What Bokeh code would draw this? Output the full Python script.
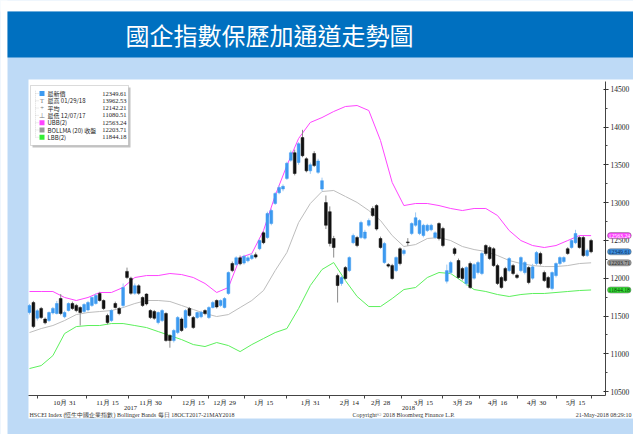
from bokeh.plotting import figure
from bokeh.models import (ColumnDataSource, FixedTicker, SingleIntervalTicker, Label,
                          BoxAnnotation, Range1d, LinearAxis)
from bokeh.embed import file_html
from bokeh.resources import INLINE

# ---------------- data (trading-day index 0 = 18 Oct 2017, 144 = 21 May 2018) -------------
tick_idx = [9, 20, 31, 42, 50, 60, 72, 82, 90, 101, 111, 120, 130, 140]
tick_labels = ["10月 31", "11月 15", "11月 30", "12月 15", "12月 29", "1月 15", "1月 31",
               "2月 14", "2月 28", "3月 15", "3月 29", "4月 16", "4月 30", "5月 15"]
minor_idx = [2, 14.5, 25.5, 36.5, 46, 55, 66, 77, 86, 95.5, 106, 115.5, 125, 135, 144]
years = ["2017", "2018"]
year_pos = [25.9, 97.2]

opens = [11546, 11678, 11470, 11600, 11460, 11440, 11540, 11533, 11731, 11490,
         11572, 11665, 11640, 11612, 11560, 11580, 11640, 11665, 11798, 11705,
         11506, 11440, 11665, 11599, 11639, 12090, 12000, 11800, 11900, 11745,
         11790, 11572, 11560, 11413, 11440, 11533, 11241, 11175, 11281, 11460,
         11347, 11599, 11480, 11480, 11490, 11572, 11480, 11612, 11705, 11640,
         11612, 11798, 12194, 12180, 12270, 12200, 12230, 12260, 12310, 12390,
         12600, 12538, 12723, 12988, 13130, 13180, 13320, 13560, 13660, 13530,
         13860, 13580, 13420, 13650, 13400, 13180, 13000, 12880, 12525, 12035,
         11930, 12141, 12101, 12470, 12538, 12538, 12530, 12700, 12922, 12961,
         12525, 12207, 12180, 12167, 12101, 12390, 12326, 12480, 12591, 12700,
         12591, 12564, 12630, 12640, 12540, 12723, 12657, 11960, 12075, 12390,
         12234, 12128, 11930, 12194, 12000, 12075, 12062, 12432, 12406, 12390,
         12167, 12009, 12128, 12101, 12167, 12040, 12101, 12075, 12141, 12000,
         12194, 12326, 12075, 12009, 11864, 12035, 12194, 12220, 12390, 12406,
         12470, 12538, 12538, 12300, 12498]
closes = [11639, 11360, 11570, 11480, 11410, 11546, 11600, 11665, 11533, 11546,
          11665, 11599, 11572, 11546, 11652, 11678, 11745, 11771, 11705, 11599,
          11413, 11572, 11612, 11533, 11877, 12010, 11800, 11900, 11800, 11639,
          11660, 11480, 11470, 11546, 11572, 11175, 11175, 11308, 11480, 11308,
          11572, 11506, 11347, 11546, 11550, 11533, 11612, 11678, 11620, 11705,
          11731, 12075, 12101, 12270, 12190, 12290, 12270, 12300, 12280, 12498,
          12470, 12856, 12895, 13120, 13200, 13215, 13520, 13660, 13385, 13780,
          13620, 13420, 13500, 13490, 13550, 13290, 12700, 12460, 12406, 11903,
          12009, 11996, 12273, 12564, 12432, 12736, 12610, 12763, 12830, 12650,
          12406, 12458, 12160, 11996, 12273, 12194, 12366, 12470, 12723, 12800,
          12763, 12700, 12700, 12700, 12600, 12525, 12432, 12100, 12207, 12326,
          12009, 11996, 12141, 11877, 12180, 12207, 12326, 12326, 12260, 12167,
          11930, 11877, 11969, 12260, 12062, 12010, 12273, 12207, 11943, 12150,
          12340, 12194, 11969, 11877, 12075, 12194, 12273, 12273, 12326, 12498,
          12591, 12406, 12300, 12366, 12349.61]
highs = [11660, 11700, 11590, 11620, 11480, 11560, 11620, 11700, 11790, 11570,
         11680, 11690, 11660, 11630, 11670, 11700, 11760, 11800, 11820, 11720,
         11530, 11590, 11690, 11620, 11930, 12140, 12020, 11930, 11920, 11760,
         11800, 11590, 11580, 11560, 11590, 11550, 11260, 11330, 11500, 11480,
         11590, 11620, 11500, 11560, 11570, 11590, 11630, 11700, 11720, 11720,
         11750, 12090, 12220, 12290, 12300, 12310, 12300, 12330, 12340, 12520,
         12620, 12880, 12920, 13140, 13230, 13240, 13540, 13690, 13700, 13800,
         13962.53, 13600, 13530, 13680, 13580, 13330, 13094, 12950, 12560, 12060,
         12030, 12160, 12290, 12590, 12560, 12760, 12640, 12790, 12950, 12980,
         12550, 12480, 12200, 12190, 12290, 12410, 12390, 12530, 12740, 12870,
         12780, 12720, 12720, 12720, 12620, 12740, 12680, 12180, 12230, 12410,
         12260, 12150, 12160, 12220, 12200, 12230, 12350, 12450, 12430, 12410,
         12190, 12030, 12150, 12280, 12190, 12060, 12290, 12230, 12160, 12190,
         12360, 12350, 12100, 12030, 12090, 12210, 12290, 12290, 12410, 12520,
         12640, 12560, 12560, 12390, 12520]
lows = [11520, 11340, 11440, 11460, 11390, 11420, 11520, 11520, 11510, 11470,
        11560, 11580, 11550, 11374, 11540, 11560, 11620, 11650, 11690, 11580,
        11390, 11420, 11600, 11510, 11610, 11990, 11780, 11780, 11780, 11620,
        11640, 11460, 11450, 11390, 11420, 11160, 11080.51, 11150, 11260, 11290,
        11330, 11490, 11330, 11460, 11470, 11510, 11460, 11600, 11600, 11620,
        11600, 11780, 12080, 12160, 12170, 12180, 12210, 12240, 12260, 12370,
        12450, 12520, 12700, 12970, 13110, 13150, 13300, 13540, 13360, 13500,
        13600, 13400, 13380, 13470, 13380, 13150, 12650, 12420, 12273, 11678,
        11900, 11980, 12080, 12450, 12410, 12520, 12510, 12680, 12810, 12630,
        12390, 12190, 12140, 11980, 12080, 12170, 12300, 12430, 12570, 12680,
        12570, 12540, 12610, 12620, 12520, 12500, 12410, 11930, 12050, 12300,
        11990, 11970, 11900, 11860, 11980, 12050, 12040, 12300, 12240, 12150,
        11910, 11860, 11950, 12080, 12040, 11990, 12080, 12050, 11920, 11980,
        12170, 12170, 11950, 11860, 11840, 12010, 12170, 12200, 12310, 12390,
        12450, 12390, 12280, 12280, 12330]

band_idx = list(range(0, 145, 3))
upper = [11824, 11824, 11824, 11745, 11705, 11745, 11811, 11811, 11877, 12009,
         12035, 12035, 12062, 12048, 12009, 11930, 11811, 11877, 12273, 12326,
         12630, 13094, 13490, 13848, 14060, 14125, 14205, 14271, 14284, 14218,
         13821, 13266, 12961, 12988, 12988, 12961, 12922, 12895, 12922, 12922,
         12829, 12630, 12498, 12432, 12406, 12432, 12498, 12564, 12563.24]
middle = [11281, 11334, 11374, 11440, 11519, 11546, 11559, 11572, 11612, 11665,
          11705, 11705, 11692, 11639, 11586, 11533, 11493, 11519, 11612, 11705,
          11837, 12101, 12340, 12736, 12988, 13147, 13160, 13081, 13002, 12895,
          12763, 12564, 12419, 12445, 12525, 12538, 12498, 12419, 12379, 12353,
          12300, 12234, 12194, 12167, 12154, 12154, 12167, 12194, 12203.71]
lower = [10805, 10844, 10976, 11268, 11360, 11374, 11374, 11400, 11400, 11374,
         11347, 11294, 11241, 11188, 11122, 11096, 11149, 11109, 11029, 11122,
         11202, 11281, 11334, 11599, 11903, 12115, 12207, 11969, 11758, 11625,
         11625, 11731, 11850, 11877, 12009, 12075, 12062, 11956, 11850, 11824,
         11784, 11758, 11784, 11798, 11798, 11811, 11824, 11837, 11844.18]

legend_names = ["最新價", "最高 01/29/18", "平均", "最低 12/07/17", "UBB(2)",
                "BOLLMA (20) 收盤", "LBB(2)"]
legend_values = ["12349.61", "13962.53", "12142.21", "11080.51", "12563.24",
                 "12203.71", "11844.18"]
tag_values = [12563.24, 12349.61, 12203.71, 11844.18]

title_text = "國企指數保歷加通道走勢圖"
footer_left = "HSCEI Index (恒生中國企業指數) Bollinger Bands  每日 18OCT2017-21MAY2018"
footer_mid = "Copyright© 2018 Bloomberg Finance L.P."
footer_right = "21-May-2018 08:29:10"

# ---------------- layout helpers (picture is 633 x 434, canvas drawn at page origin) ------
W, H = 633, 434


def sx(xi):
    return xi


def sy(yi):
    return H - yi


# picture-pixel -> data mapping of the chart area
PX0, PXD = 29.0, 3.9          # x pixel of index 0, pixels per trading day
PY0, PPP = 88.7, 500 / 37.8   # y pixel of 14500, price per pixel


def xd(xi):
    return (xi - PX0) / PXD


def yd(yi):
    return 14500 - (yi - PY0) * PPP


BLUE = "#3D9AF0"
BLACK = "#111111"
MAGENTA = "#FF44FF"
GRAY = "#BDBDBD"
GREEN = "#5CF05C"
LIGHTBG = "#BEDAF6"
BAND = "#0070C0"
SERIF = "Liberation Serif"

n = len(opens)
idx = list(range(n))
up = [c >= o for o, c in zip(opens, closes)]
src = ColumnDataSource(dict(
    x=idx, o=opens, c=closes, h=highs, l=lows,
    top=[max(o, c) for o, c in zip(opens, closes)],
    bot=[min(o, c) for o, c in zip(opens, closes)],
    body=[BLUE if u else BLACK for u in up],
    wick=["#9CC8F2" if u else "#8A8A8A" for u in up],
))

p = figure(width=W, height=H, output_backend="svg", toolbar_location=None,
           x_range=Range1d(xd(0), xd(W)), y_range=Range1d(yd(H), yd(0)),
           x_axis_location=None, y_axis_location=None,
           min_border_left=0, min_border_right=0, min_border_top=0, min_border_bottom=0,
           background_fill_color=LIGHTBG, border_fill_color=LIGHTBG,
           outline_line_color=None)
p.grid.visible = False


def sbox(x0, x1, y0, y1, **kw):
    """box given in picture pixels"""
    return BoxAnnotation(left=sx(x0), right=sx(x1), top=sy(y0), bottom=sy(y1),
                         left_units="screen", right_units="screen",
                         bottom_units="screen", top_units="screen", **kw)


# backgrounds
p.add_layout(sbox(-5, 640, -5, 11, fill_color="white", fill_alpha=1, line_color=None, level="underlay"))
p.add_layout(sbox(-5, 7, -5, 440, fill_color="white", fill_alpha=1, line_color=None, level="underlay"))
p.add_layout(sbox(7, 640, 11, 57, fill_color=BAND, fill_alpha=1, line_color=None, level="underlay"))
p.add_layout(sbox(28, 640, 79, 418, fill_color="white", fill_alpha=1, line_color=None, level="underlay"))

# bands
p.line(band_idx, upper, line_color=MAGENTA, line_width=1)
p.line(band_idx, middle, line_color=GRAY, line_width=1)
p.line(band_idx, lower, line_color=GREEN, line_width=1)

# candles
p.segment(x0="x", y0="l", x1="x", y1="h", line_color="wick", line_width=1, source=src)
p.vbar(x="x", width=0.72, top="top", bottom="bot", fill_color="body",
       line_color="body", line_width=0.5, source=src)

# axes (fixed inside the full-canvas frame)
x_lo, x_hi = xd(28), xd(605)
y_lo, y_hi = yd(395), yd(81)
xa = LinearAxis(fixed_location=y_lo, bounds=(x_lo, x_hi))
xa.ticker = FixedTicker(ticks=tick_idx, minor_ticks=minor_idx)
xa.major_label_overrides = {i: t for i, t in zip(tick_idx, tick_labels)}
xa.major_tick_out = 0
xa.major_tick_in = 0
xa.minor_tick_out = 3
xa.minor_tick_in = 0
xa.major_label_standoff = 0
xa.major_label_text_font = SERIF
xa.major_label_text_font_size = "7px"
xa.major_label_text_color = "#222222"
xa.axis_line_color = "#444444"
xa.minor_tick_line_color = "#444444"
p.add_layout(xa, "below")

ya = LinearAxis(fixed_location=x_hi, bounds=(y_lo, y_hi))
ya.ticker = SingleIntervalTicker(interval=500, num_minor_ticks=2)
ya.major_tick_out = 3
ya.major_tick_in = 2
ya.minor_tick_out = 2
ya.minor_tick_in = 0
ya.major_label_standoff = 2
ya.major_label_text_font = SERIF
ya.major_label_text_font_size = "7.5px"
ya.major_label_text_color = "#222222"
ya.axis_line_color = "#444444"
ya.major_tick_line_color = "#222222"
ya.minor_tick_line_color = "#444444"
p.add_layout(ya, "right")

# right-side price tags
tag_fill = [MAGENTA, "#3D8FE0", "#9A9A9A", "#33DD33"]
tag_txt = ["white", "#0A2A55", "#222222", "#0A3A0A"]
for v, f, t in zip(tag_values, tag_fill, tag_txt):
    p.add_layout(Label(x=sx(607), y=v, x_units="screen", y_units="data",
                       text=f"{v:.2f}", text_font=SERIF, text_font_size="5.8px",
                       text_color=t, text_baseline="middle", text_align="left",
                       background_fill_color=f, background_fill_alpha=1,
                       border_line_color="#666666", border_line_width=0.5,
                       padding=1, border_radius=3))

# year labels and footer
for yr, pos in zip(years, year_pos):
    p.add_layout(Label(x=pos, y=sy(407), x_units="data", y_units="screen", text=yr,
                       text_font=SERIF, text_font_size="6.5px", text_color="#222222",
                       text_align="center", text_baseline="middle"))
for txt, xi, al in [(footer_left, 29, "left"), (footer_mid, 352, "left"), (footer_right, 631, "right")]:
    p.add_layout(Label(x=sx(xi), y=sy(414), x_units="screen", y_units="screen", text=txt,
                       text_font=SERIF, text_font_size="6px", text_color="#333333",
                       text_align=al, text_baseline="middle"))

# title
p.add_layout(Label(x=sx(269), y=sy(34), x_units="screen", y_units="screen", text=title_text,
                   text_font="Noto Sans CJK TC", text_font_size="24px",
                   text_color="white", text_align="center", text_baseline="middle"))

# legend box
p.add_layout(sbox(32, 130, 87, 147, fill_color="#999999", fill_alpha=0.6, line_color=None))
p.add_layout(sbox(30, 128, 85, 145, fill_color="white", fill_alpha=1,
                  line_color="#888888", line_width=1))
row_yi = [93, 100.3, 107.6, 114.9, 122.2, 129.5, 136.8]
# dotted tree line on the left of the legend
p.add_layout(sbox(35, 35, 90, row_yi[-1], fill_alpha=0, line_color="#999999",
                  line_width=0.6, line_dash="1 1"))
icon_kind = ["sq", "T", "+", "⊥", "sq", "sq", "sq"]
icon_col = [BLUE, "#777777", "#777777", "#777777", MAGENTA, "#999999", "#33EE33"]
for yi, name, val, kind, col in zip(row_yi, legend_names, legend_values, icon_kind, icon_col):
    p.add_layout(sbox(35, 38.5, yi, yi, fill_alpha=0, line_color="#999999",
                      line_width=0.6, line_dash="1 1"))
    if kind == "sq":
        p.add_layout(sbox(39, 44, yi - 2.5, yi + 2.5, fill_color=col, fill_alpha=1, line_color=None))
    else:
        p.add_layout(Label(x=sx(41.5), y=sy(yi), x_units="screen", y_units="screen", text=kind,
                           text_font=SERIF, text_font_size="6.5px", text_color=col,
                           text_align="center", text_baseline="middle"))
    p.add_layout(Label(x=sx(47), y=sy(yi), x_units="screen", y_units="screen", text=name,
                       text_font="Noto Sans CJK TC", text_font_size="6px",
                       text_color="#222222", text_align="left", text_baseline="middle"))
    p.add_layout(Label(x=sx(126), y=sy(yi), x_units="screen", y_units="screen", text=val,
                       text_font=SERIF, text_font_size="6.5px", text_color="#222222",
                       text_align="right", text_baseline="middle"))

open("out.html", "w").write(file_html(p, INLINE))
